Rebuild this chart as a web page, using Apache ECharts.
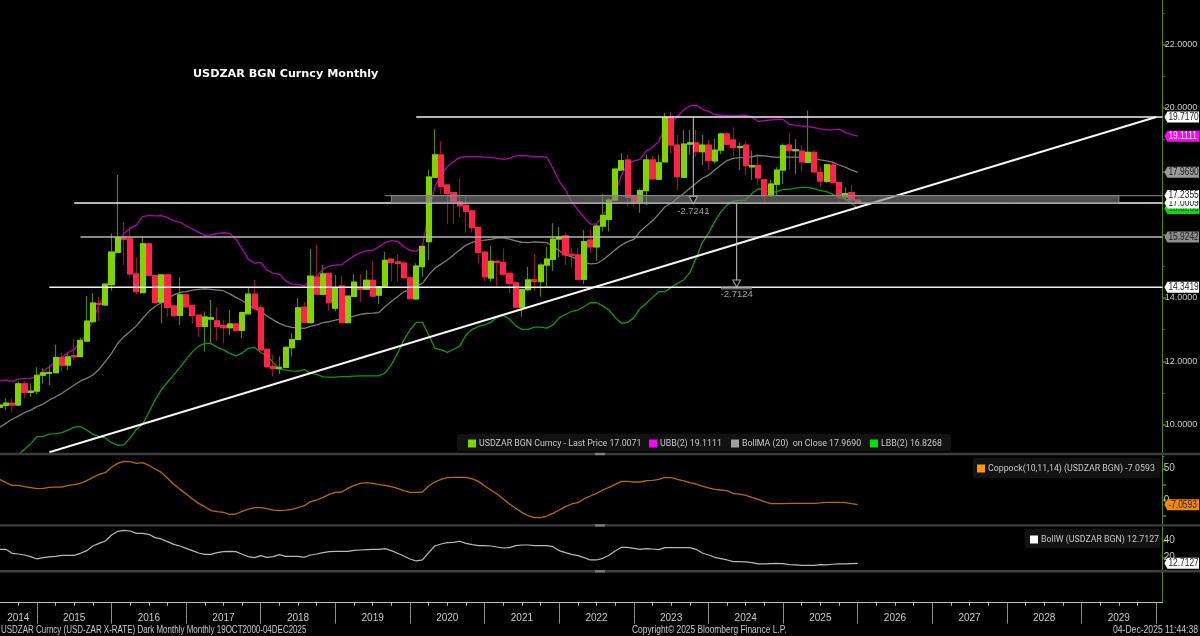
<!DOCTYPE html>
<html><head><meta charset="utf-8">
<style>html,body{margin:0;padding:0;background:#000}#c{width:1200px;height:636px}</style>
<script src="https://cdn.jsdelivr.net/npm/echarts@6/dist/echarts.min.js"></script>
</head><body><div id="c"></div>
<script>
const opens=[10.55,10.61,10.68,10.62,11.29,11.02,11.06,11.56,11.62,11.64,12.12,11.88,12.18,12.15,12.64,13.25,13.83,13.78,14.42,15.44,15.9,15.87,14.76,14.17,15.71,14.71,13.87,14.73,13.75,13.45,14.1,13.77,13.46,13.1,13.33,13.28,13.13,13.06,13.18,12.98,13.5,14.12,13.69,12.38,11.84,11.77,11.81,12.43,12.69,13.71,13.22,14.66,14.11,14.78,13.68,14.38,13.22,14.05,14.33,14.28,14.56,14.09,14.36,15.23,15.14,15.1,14.64,13.97,14.99,15.78,17.81,18.52,17.57,17.33,17.04,16.93,16.75,16.23,15.45,14.63,15.16,15.12,14.78,14.48,13.71,14.26,14.58,14.52,15.04,15.22,15.86,15.96,15.38,15.36,14.59,15.83,15.61,16.27,16.48,17.09,18.04,18.36,17.2,17.01,17.39,18.36,17.75,18.3,19.69,18.83,17.81,18.86,18.9,18.62,18.83,18.33,18.67,19.18,18.99,18.75,18.83,18.14,18.19,17.73,17.23,17.59,18.04,18.83,18.65,18.64,18.28,18.6,17.97,17.68,18.2,17.65,17.2,17.33,17.09];
const closes=[10.62,10.68,10.62,11.29,11.02,11.06,11.56,11.64,11.65,12.12,11.88,12.14,12.14,12.66,13.27,13.84,13.8,14.44,15.45,15.91,15.85,14.76,14.2,15.71,14.71,13.85,14.73,13.7,13.44,14.1,13.72,13.45,13.1,13.4,13.38,13.1,13.06,13.18,12.97,13.54,14.12,13.67,12.36,11.83,11.77,11.81,12.44,12.69,13.69,13.23,14.69,14.12,14.76,13.85,14.33,13.22,14.06,14.5,14.27,14.56,14.06,14.36,15.19,15.12,15.09,14.64,13.98,15.01,15.63,17.82,18.52,17.52,17.3,17.05,16.91,16.73,16.22,15.44,14.67,15.16,15.12,14.75,14.46,13.71,14.27,14.57,14.52,15.04,15.23,15.86,15.92,15.36,15.35,14.59,15.78,15.61,16.27,16.61,17.09,18.07,18.34,17.18,17.01,17.39,18.36,17.76,18.27,19.69,18.83,17.83,18.86,18.9,18.62,18.83,18.34,18.67,19.18,18.85,18.75,18.78,18.18,18.18,17.79,17.23,17.6,18.04,18.81,18.65,18.68,18.3,18.6,17.98,17.69,18.21,17.64,17.23,17.3,17.09,17.0071];
const highs=[10.83,10.83,10.83,11.36,11.36,11.31,11.81,11.78,11.88,12.52,12.28,12.28,12.71,12.75,14.06,14.15,14.04,14.46,16.04,17.88,16.41,16.23,15.29,15.96,15.73,14.73,14.73,14.73,13.75,14.65,14.15,13.79,13.46,13.57,13.94,13.71,13.31,13.62,13.2,13.57,14.33,14.57,13.78,12.41,12.2,12.15,12.48,12.89,13.99,13.88,15.55,15.67,15.04,14.79,14.73,14.7,14.06,14.76,14.75,14.88,15.15,14.36,15.46,15.25,15.38,15.17,14.64,15.1,15.67,18.06,19.33,18.95,17.57,17.33,17.78,17.25,16.75,16.25,15.45,15.64,15.2,15.57,14.8,14.52,14.27,14.99,15.39,15.1,15.62,16.36,16.25,16.06,15.57,15.57,16.15,16.15,16.36,17.28,17.15,18.07,18.57,18.52,17.2,17.46,18.52,18.48,18.52,19.85,19.88,19.15,19.31,19.31,19.31,19.15,18.99,19.04,19.22,19.25,19.38,18.9,18.94,18.65,18.55,17.73,17.73,18.13,18.88,19.2,19.01,18.83,19.92,18.67,18.15,18.23,18.34,17.65,17.49,17.57,17.11];
const lows=[10.52,10.46,10.41,10.59,10.83,10.88,10.97,11.31,11.25,11.62,11.67,11.73,12.04,12.15,12.62,13.2,13.28,13.75,14.23,15.44,15.04,14.65,14.13,14.15,14.67,13.83,13.2,13.41,13.41,13.15,13.71,13.18,12.78,12.31,12.57,12.65,12.57,12.83,12.94,12.73,13.49,13.62,12.34,11.78,11.52,11.59,11.8,12.15,12.68,13.22,13.2,14.1,14.1,13.6,13.57,13.22,13.22,14.04,13.88,14.25,14.04,13.81,14.34,14.52,14.52,14.6,13.97,13.96,14.67,15.2,17.8,17.28,16.34,16.34,16.55,16.07,16.06,15.1,14.52,14.52,14.38,14.7,14.15,13.67,13.41,14.23,14.23,14.04,14.36,14.86,15.28,15.04,14.94,14.57,14.44,15.41,15.18,16.1,16.1,17.07,18.04,16.9,16.88,16.69,16.94,17.73,17.73,18.29,18.57,17.41,17.8,18.52,18.46,18.2,18.06,18.25,18.55,18.8,18.46,18.04,17.88,17.73,17.57,17.04,17.22,17.25,17.6,18.04,17.91,17.99,18.27,17.94,17.51,17.64,17.62,17.04,17.04,17.04,16.99];
const ubb=[11.38,11.41,11.37,11.44,11.46,11.47,11.52,11.69,11.83,11.99,12.13,12.28,12.38,12.62,12.87,13.31,13.78,14.15,14.83,15.68,16.04,16.2,16.31,16.57,16.61,16.59,16.6,16.54,16.44,16.39,16.28,16.18,16.07,15.98,15.99,16.04,16.06,16.04,15.85,15.55,15.22,15.1,15.12,14.88,14.78,14.75,14.54,14.44,14.43,14.38,14.57,14.67,14.91,15.01,15.04,15.05,15.2,15.33,15.43,15.49,15.5,15.62,15.75,15.81,15.79,15.62,15.5,15.47,15.64,16.67,17.52,17.89,18.15,18.31,18.44,18.46,18.47,18.46,18.45,18.44,18.41,18.38,18.41,18.49,18.5,18.49,18.46,18.46,18.44,18.09,17.68,17.41,17.04,16.78,16.55,16.33,16.33,16.59,16.88,17.3,17.88,18.23,18.33,18.38,18.64,18.76,18.94,19.36,19.52,19.73,19.94,20.07,20.09,19.96,19.9,19.78,19.77,19.75,19.75,19.76,19.77,19.71,19.58,19.6,19.62,19.64,19.64,19.48,19.45,19.43,19.41,19.38,19.34,19.31,19.31,19.33,19.23,19.16,19.1111];
const bollMa=[9.92,10.04,10.17,10.27,10.38,10.46,10.57,10.65,10.78,10.88,10.99,11.12,11.25,11.38,11.46,11.57,11.75,11.99,12.25,12.57,12.78,12.94,13.12,13.36,13.57,13.73,13.85,13.99,14.1,14.18,14.2,14.25,14.27,14.29,14.27,14.25,14.23,14.13,14.02,13.92,13.78,13.67,13.57,13.43,13.31,13.2,13.12,13.07,13.06,13.04,13.1,13.15,13.22,13.25,13.3,13.34,13.38,13.43,13.48,13.51,13.52,13.54,13.73,13.89,14.04,14.2,14.25,14.38,14.46,14.73,14.94,15.07,15.2,15.36,15.52,15.67,15.76,15.82,15.83,15.85,15.9,15.9,15.86,15.8,15.76,15.75,15.77,15.76,15.75,15.62,15.5,15.36,15.3,15.22,15.12,15.08,15.09,15.2,15.36,15.52,15.67,15.78,15.85,16.1,16.27,16.44,16.65,16.88,16.99,17.15,17.3,17.46,17.62,17.78,17.88,18.04,18.2,18.34,18.41,18.43,18.44,18.46,18.5,18.49,18.46,18.44,18.46,18.45,18.45,18.44,18.42,18.41,18.36,18.33,18.28,18.2,18.13,18.04,17.969];
const lbb=[null,null,null,9.05,9.22,9.4,9.62,9.63,9.7,9.72,9.75,9.83,9.92,9.94,9.83,9.69,9.62,9.58,9.43,9.35,9.36,9.59,9.85,10.02,10.39,10.78,11.1,11.34,11.57,11.81,12.06,12.3,12.48,12.57,12.56,12.44,12.36,12.25,12.17,12.26,12.41,12.44,12.28,12.18,11.96,11.76,11.72,11.7,11.69,11.74,11.62,11.59,11.51,11.5,11.5,11.52,11.52,11.53,11.54,11.54,11.54,11.54,11.64,11.89,12.25,12.67,12.99,13.23,13.23,12.83,12.41,12.36,12.28,12.38,12.48,12.83,13.01,13.1,13.15,13.23,13.39,13.45,13.33,13.12,13.01,13.01,13.08,13.08,13.05,13.15,13.38,13.48,13.58,13.62,13.73,13.85,13.85,13.75,13.62,13.38,13.2,13.23,13.38,13.67,13.83,14.02,14.2,14.2,14.34,14.46,14.57,14.8,15.25,15.75,16.04,16.41,16.72,16.94,17.06,17.08,17.09,17.3,17.45,17.41,17.33,17.36,17.43,17.43,17.47,17.49,17.49,17.45,17.39,17.36,17.27,17.18,17.13,16.99,16.8268];
const coppock=[33.1,27.8,23.6,23.6,21.5,19.9,18.3,18.8,20.4,20.9,20.9,23.6,24.7,26.8,31,36.3,41.1,43.7,52.2,58.5,61.7,61.2,58.5,59.6,55.4,49.5,44.2,34.7,25.2,17.2,9.8,1.9,-5,-10.3,-16.6,-18.2,-19.3,-22.4,-21.9,-17.7,-14,-11.9,-11.9,-13.4,-15.6,-16.6,-15.6,-14.5,-11.9,-8.7,-2.3,0.3,4.5,9.3,12.5,13,18.8,23.6,26.8,27.8,26.8,24.7,23.6,21.5,18.8,15.1,12.5,12.5,13,22.5,28.9,33.1,35.8,36.3,36.3,36.3,33.7,29.9,22.5,16.2,9.8,1.9,-6,-12.9,-19.3,-24.6,-27.7,-27.7,-25.1,-20.9,-15.6,-10.3,-6,-3.9,2.4,6.7,10.9,16.2,20.4,25.2,29.9,29.9,28.9,28.9,31,31.5,33.1,36.3,35.8,33.1,30.5,27.8,25.7,22.5,19.4,17.2,16.2,15.1,10.9,9.8,7.7,4.5,1.4,-2.3,-5.5,-5.5,-5.5,-5,-5,-5,-5,-5,-4.4,-3.4,-3.4,-3.4,-3.9,-5.5,-7.0593];
const bollW=[29.6,29.6,24.8,24,22.8,20.8,18,19.6,20.4,21.2,22.4,22.4,22.4,24.8,28,33.6,36.8,39.7,46.9,51.3,52.5,51.7,48.9,48.9,47.7,43.7,42.1,38.9,35.6,33.6,30.8,28,25.2,23.6,23.6,25.6,26.8,27.2,26.8,23.6,20.8,19.6,22,20,20.8,23.2,21.2,21.2,21.2,20,22.8,24,25.6,26.8,27.2,27.2,27.2,28.4,28.8,29.2,29.6,29.6,30.4,28,24.8,21.6,18,15.6,16.8,25.6,33.6,36,37.7,38,39.3,36.8,35.2,34,34,33.6,32.4,31.2,31.6,34,34.8,34.8,34,34,34,32.8,28,25.6,23.6,22,19.6,16.8,16.8,18.8,22.4,27.6,32,32,30.8,29.6,30.4,30,29.2,31.6,31.6,31.6,31.6,31.6,29.6,25.2,22.8,20,18.4,16.8,14.8,14.8,14.4,13.6,12,12,12.4,12.8,12.4,11.2,10.8,10.3,10.3,10.3,11.2,10.8,11.6,12,12,12.4,12.7127];

const yearLabels=['2014','2015','2016','2017','2018','2019','2020','2021','2022','2023','2024','2025','2026','2027','2028','2029'];
const yearLabelMonths=[3,12,24,36,48,60,72,84,96,108,120,132,144,156,168,180];
const yearBoundaryMonths=[6,18,30,42,54,66,78,90,102,114,126,138,150,162,174,186];
const quarterMonths=[0,3,6,9,12,15,18,21,24,27,30,33,36,39,42,45,48,51,54,57,60,63,66,69,72,75,78,81,84,87,90,93,96,99,102,105,108,111,114,117,120,123,126,129,132,135,138,141,144,147,150,153,156,159,162,165,168,171,174,177,180,183,186];
const priceTickLabels=[22,20,14,12,10];
const priceMajorTicks=[10,12,14,16,18,20,22];
const priceMinorTicks=[9,11,13,15,17,19,21,23];
const coppockTicks=[50,25,0,-25], coppockLabels=[50,0];
const bollWTicks=[40,20], bollWLabels=[40,20];

const tagValues=[19.1111,19.717,17.969,16.8268,17.0009,17.2355,15.9242,14.3419];
const tagTexts=['19.1111','19.7170','17.9690','16.8268','17.0009','17.2355','15.9242','14.3419'];
const tagFills=['#ff00ff','#ffffff','#9a9a9a','#00e000','#ffffff','#ffffff','#8c8c8c','#ffffff'];
const tagInks=['#ffffff','#222222','#222222','#003300','#222222','#222222','#222222','#222222'];

const months=[]; for(let i=0;i<188;i++){months.push(String(i));}
const green='#7fd400',red='#ff2448',greenWick='#567f00',redWick='#8c1732';
const FONT="'Liberation Sans',sans-serif";
const LEGFONT="Roboto,'Liberation Sans',sans-serif";
const TXT='#c8c8c8';
const AXIS='#4f8a00';

const NAME_P='USDZAR BGN Curncy - Last Price 17.0071',NAME_U='UBB(2) 19.1111',NAME_M='BollMA (20)  on Close 17.9690',NAME_L='LBB(2) 16.8268',NAME_C='Coppock(10,11,14) (USDZAR BGN) -7.0593',NAME_W='BollW (USDZAR BGN) 12.7127';

function candleData(bodyOnly){
  return opens.map((o,i)=>{const c=closes[i];
    return bodyOnly?[o,c,Math.min(o,c),Math.max(o,c)]:[o,c,lows[i],highs[i]];});
}
function tagRenderer(fills,inks,texts){
  return function(params,api){
    const i=params.dataIndex;const p=api.coord([187,api.value(1)]);
    const x=p[0]+2,y=p[1];
    return {type:'group',children:[
      {type:'polygon',shape:{points:[[x,y],[x+3,y-5.5],[1199,y-5.5],[1199,y+5.5],[x+3,y+5.5]]},style:{fill:fills[i]}},
      {type:'text',x:x+4,y:y,scaleX:0.8,style:{text:texts[i],fill:inks[i],font:"10.5px "+FONT,verticalAlign:'middle',align:'left'}}
    ]};
  };
}
function seg(name,pts,color,width,z){
  return {name,type:'line',xAxisIndex:1,yAxisIndex:0,data:pts,showSymbol:false,silent:true,z:z||4,
    lineStyle:{color,width},itemStyle:{color},animation:false};
}
const leg=(name,left,top,color)=>({show:true,left,top,padding:0,itemWidth:8,itemHeight:8,itemGap:0,selectedMode:false,
  data:[{name,icon:'rect',itemStyle:{color,borderWidth:0}}],textStyle:{color:TXT,fontFamily:LEGFONT,fontSize:8.8,padding:[0,0,0,-2]}});
const sep=y=>({type:'rect',shape:{x:0,y:y-1.2,width:1200,height:2.4},style:{fill:'#3d3d3d'},z:5});
const handle=y=>({type:'rect',shape:{x:595,y:y-1.2,width:10,height:2.4},style:{fill:'#7c7c7c'},z:5});
const box=(x,y,w,h)=>({type:'rect',shape:{x,y,width:w,height:h,r:2},style:{fill:'#121212'},z:0});
const foot=(text,x,align,sx)=>({type:'text',x,y:630.5,scaleX:sx,z:6,style:{text,fill:TXT,font:"10.5px "+FONT,align,verticalAlign:'middle'}});
const hiddenCat=g=>({type:'category',gridIndex:g,data:months,show:false,boundaryGap:true});
const NB={outerBoundsMode:'none'};

const option={
  backgroundColor:'#000',animation:false,
  title:[
    {text:'USDZAR BGN Curncy Monthly',left:193,top:69,padding:0,textStyle:{color:'#fff',fontFamily:"'DejaVu Sans',sans-serif",fontSize:11.2,fontWeight:'bold'}}
  ],
  legend:[
    leg(NAME_P,468,439,'#7fd400'),leg(NAME_U,649,439,'#ff00ff'),leg(NAME_M,731,439,'#a0a0a0'),leg(NAME_L,870,439,'#00e000'),
    leg(NAME_C,977,464,'#ff9900'),leg(NAME_W,1030,535,'#ffffff')
  ],
  graphic:[box(457,434,494,17),box(973,458,187,20),box(1025,529,135,19),sep(454),sep(525.4),sep(571.3),handle(454),handle(525.4),handle(571.3),
    foot('USDZAR Curncy (USD-ZAR X-RATE) Dark Monthly Monthly 19OCT2000-04DEC2025',1,'left',0.76),
    foot('Copyright\u00a9 2025 Bloomberg Finance L.P.',632,'left',0.8),
    foot('04-Dec-2025 11:44:38',1198,'right',0.82)],
  grid:[
    {...NB,left:-3.5,top:0,width:1169,height:488},
    {...NB,left:-3.5,top:452.95,width:1169,height:78.75},
    {...NB,left:-3.5,top:524.1,width:1169,height:49.8},
    {...NB,left:-3.5,top:574,width:1165.8,height:28.7}
  ],
  xAxis:[
    hiddenCat(0),
    {type:'value',gridIndex:0,min:-0.5,max:187.5,show:false},
    hiddenCat(1),
    hiddenCat(2),
    {type:'value',gridIndex:3,min:-0.5,max:187,position:'bottom',splitLine:{show:false},
      axisLine:{show:true,onZero:false,lineStyle:{color:'#bdbdbd',width:1}},
      axisTick:{show:true,length:3,customValues:quarterMonths,lineStyle:{color:'#bdbdbd'}},
      axisLabel:{show:true,customValues:yearLabelMonths,margin:11,hideOverlap:false,color:TXT,fontFamily:FONT,fontSize:10,
        formatter:v=>yearLabels[yearLabelMonths.indexOf(v)]||''}},
    {type:'value',gridIndex:3,min:-0.5,max:187,position:'bottom',splitLine:{show:false},
      axisLine:{show:false,onZero:false},axisTick:{show:true,length:21,customValues:yearBoundaryMonths,lineStyle:{color:'#8a8a8a'}},axisLabel:{show:false}}
  ],
  yAxis:[
    {type:'value',gridIndex:0,position:'right',offset:-3.2,min:8,max:23.41,splitLine:{show:false},
      axisLine:{show:true,onZero:false,lineStyle:{color:AXIS,width:1}},
      axisTick:{show:true,length:4,customValues:priceMajorTicks,lineStyle:{color:AXIS,width:1.5}},
      axisLabel:{show:true,margin:2.5,customValues:priceTickLabels,color:TXT,fontFamily:FONT,fontSize:9,
        formatter:v=>v.toFixed(4)}},
    {type:'value',gridIndex:1,position:'right',offset:-3.2,min:-50,max:75,splitLine:{show:false},
      axisLine:{show:true,onZero:false,lineStyle:{color:AXIS}},
      axisTick:{show:true,length:4,customValues:coppockTicks,lineStyle:{color:AXIS,width:1.5}},
      axisLabel:{show:true,margin:1.5,customValues:coppockLabels,color:TXT,fontFamily:FONT,fontSize:10}},
    {type:'value',gridIndex:2,position:'right',offset:-3.2,min:0,max:60,splitLine:{show:false},
      axisLine:{show:true,onZero:false,lineStyle:{color:AXIS}},
      axisTick:{show:true,length:4,customValues:bollWTicks,lineStyle:{color:AXIS,width:1.5}},
      axisLabel:{show:true,margin:1.5,customValues:bollWLabels,color:TXT,fontFamily:FONT,fontSize:10}},
    {type:'value',gridIndex:3,position:'right',min:0,max:1,splitLine:{show:false},
      axisLine:{show:true,onZero:false,lineStyle:{color:AXIS}},axisTick:{show:false},axisLabel:{show:false}},
    {type:'value',gridIndex:0,position:'right',offset:-3.2,min:8,max:23.41,splitLine:{show:false},
      axisLine:{show:false,onZero:false},
      axisTick:{show:true,length:2,customValues:priceMinorTicks,lineStyle:{color:AXIS,width:1}},axisLabel:{show:false}}
  ],
  series:[
    {name:NAME_P,type:'candlestick',xAxisIndex:0,yAxisIndex:0,barWidth:5.6,data:candleData(false),z:2,silent:true,
      itemStyle:{color:green,color0:red,borderColor:greenWick,borderColor0:redWick,borderWidth:1.2}},
    {name:'bodies',type:'candlestick',xAxisIndex:0,yAxisIndex:0,barWidth:5.6,data:candleData(true),z:3,silent:true,
      itemStyle:{color:green,color0:red,borderColor:green,borderColor0:red,borderWidth:1}},
    {name:NAME_U,type:'line',xAxisIndex:0,yAxisIndex:0,data:ubb,showSymbol:false,z:3,lineStyle:{color:'#b000b0',width:1.3},itemStyle:{color:'#b000b0'}},
    {name:NAME_M,type:'line',xAxisIndex:0,yAxisIndex:0,data:bollMa,showSymbol:false,z:3,lineStyle:{color:'#7c7c7c',width:1.3},itemStyle:{color:'#7c7c7c'}},
    {name:NAME_L,type:'line',xAxisIndex:0,yAxisIndex:0,data:lbb,showSymbol:false,z:3,lineStyle:{color:'#0a9a0a',width:1.3},itemStyle:{color:'#0a9a0a'}},
    {name:NAME_C,type:'line',xAxisIndex:2,yAxisIndex:1,data:coppock,showSymbol:false,lineStyle:{color:'#b86a00',width:1.3},itemStyle:{color:'#b86a00'}},
    {name:NAME_W,type:'line',xAxisIndex:3,yAxisIndex:2,data:bollW,showSymbol:false,lineStyle:{color:'#b8b8b8',width:1.2},itemStyle:{color:'#b8b8b8'}},
    seg('res',[[67,19.717],[187,19.717]],'#f2f2f2',1.5),
    seg('sup1',[[12,17.0009],[187,17.0009]],'#f2f2f2',1.5),
    seg('sup2',[[13,15.9242],[187,15.9242]],'#b4b4b4',1.5),
    seg('sup3',[[8,14.3419],[187,14.3419]],'#f2f2f2',1.5),
    seg('trend',[[8,9.13],[186,19.717]],'#f5f5f5',2),
    seg('bandTop',[[62,17.2355],[187,17.2355]],'#6e6e6e',1.2),
    seg('drop1',[[111.56,19.717],[111.56,17.15]],'#c8c8c8',1),
    seg('drop2',[[118.54,17.0009],[118.54,14.5]],'#c8c8c8',1),
    seg('labelBar',[[116,14.3],[121,14.3]],'#6a6a6a',2),
    {name:'band',type:'line',xAxisIndex:1,yAxisIndex:0,data:[],z:5,silent:true,
      markArea:{silent:true,z:5,itemStyle:{color:'rgba(128,128,128,0.6)',borderColor:'#888',borderWidth:1},
        data:[[{coord:[63,17.2355]},{coord:[180,17.0009]}]]}},
    {name:'arrows',type:'scatter',xAxisIndex:1,yAxisIndex:0,z:6,silent:true,symbol:'triangle',symbolRotate:180,symbolSize:[8,7],
      itemStyle:{color:'#000',borderColor:'#c8c8c8',borderWidth:1},
      data:[{value:[111.56,17.09],label:{formatter:'-2.7241'}},{value:[118.54,14.46],label:{formatter:'-2.7124'}}],
      label:{show:true,position:'bottom',distance:2,color:TXT,fontFamily:FONT,fontSize:9.5}},
    {name:'tags',type:'custom',xAxisIndex:0,yAxisIndex:0,z:7,clip:false,silent:true,encode:{x:0,y:1},
      data:tagValues.map(v=>[187,v]),renderItem:tagRenderer(tagFills,tagInks,tagTexts)},
    {name:'tagC',type:'custom',xAxisIndex:2,yAxisIndex:1,z:7,clip:false,silent:true,encode:{x:0,y:1},
      data:[[187,-7.0593]],renderItem:tagRenderer(['#f08c00'],['#2a1500'],['-7.0593'])},
    {name:'tagW',type:'custom',xAxisIndex:3,yAxisIndex:2,z:7,clip:false,silent:true,encode:{x:0,y:1},
      data:[[187,12.7127]],renderItem:tagRenderer(['#ffffff'],['#222222'],['12.7127'])}
  ]
};
echarts.init(document.getElementById('c'),null,{renderer:'canvas'}).setOption(option);
</script></body></html>
